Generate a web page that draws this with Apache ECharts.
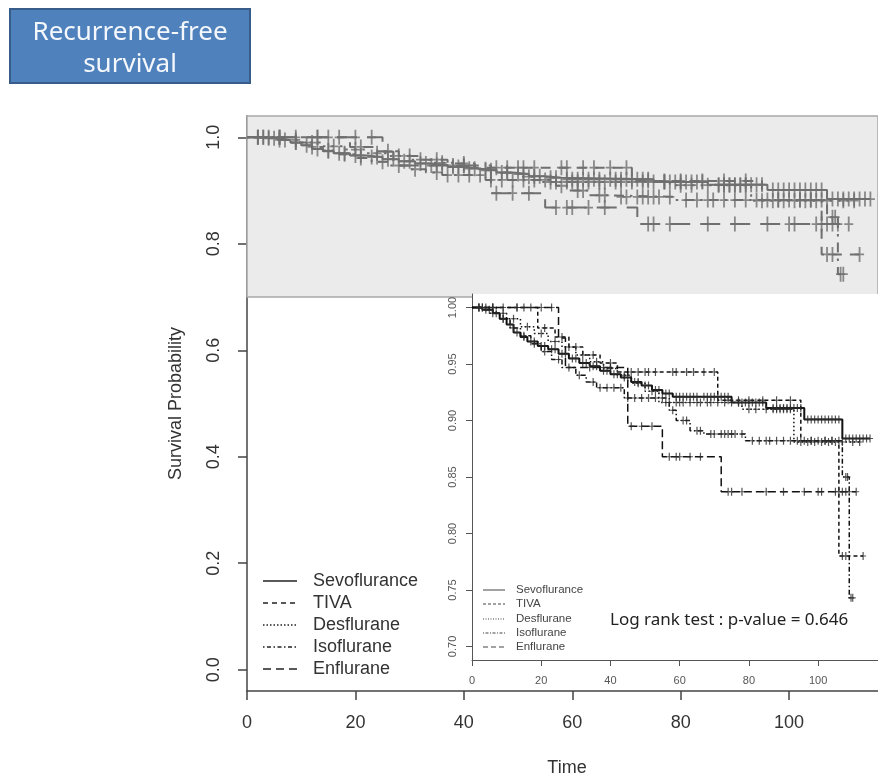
<!DOCTYPE html>
<html><head><meta charset="utf-8">
<script src="https://cdn.jsdelivr.net/npm/echarts@6/dist/echarts.min.js"></script>
<style>html,body{margin:0;padding:0;background:#fff}#c{width:878px;height:777px}</style>
</head><body><div id="c"></div>
<script>
// ---------------- DATA ----------------
const groups = ['Sevoflurance', 'TIVA', 'Desflurane', 'Isoflurane', 'Enflurane'];

const sevoT = [0, 3, 6, 8, 10, 12, 14, 16, 19, 22, 25, 28, 31, 34, 37, 40, 43, 46, 49, 52, 55, 58, 75, 85, 96, 107];
const sevoS = [1.0, 0.998, 0.995, 0.99, 0.985, 0.978, 0.974, 0.970, 0.966, 0.963, 0.959, 0.955, 0.951, 0.948, 0.944, 0.941, 0.938, 0.934, 0.931, 0.927, 0.924, 0.921, 0.916, 0.911, 0.901, 0.884];
const sevoCens = [2, 4, 5, 7, 9, 11, 13, 15, 17, 18, 20, 21, 23, 24, 26, 27, 29, 30, 32, 33, 35, 36, 38, 39, 41, 42, 44, 45, 47, 48, 50, 51, 53, 54, 56, 57, 59, 60, 61, 62, 63, 64, 65, 67, 68, 69, 70, 71, 72, 73, 74, 77, 78, 79, 80, 81, 82, 83, 84, 87, 88, 89, 90, 91, 92, 93, 94, 95, 97, 98, 99, 100, 101, 102, 103, 104, 105, 106, 108, 109, 110, 111, 112, 113, 114, 115];

const tivaT = [0, 19, 24, 28, 32, 37, 42, 71, 95, 106];
const tivaS = [1.0, 0.982, 0.974, 0.965, 0.958, 0.951, 0.943, 0.918, 0.882, 0.78];
const tivaCens = [3, 6, 9, 13, 15, 17, 21, 26, 30, 35, 40, 46, 48, 50, 51, 53, 58, 59, 62, 64, 67, 70, 74, 77, 80, 84, 88, 92, 98, 102, 104, 107, 108, 113];

const desT = [0, 7, 10, 14, 18, 22, 26, 30, 34, 38, 42, 46, 50, 54, 78, 93];
const desS = [1.0, 0.995, 0.99, 0.983, 0.977, 0.97, 0.965, 0.958, 0.952, 0.946, 0.94, 0.933, 0.926, 0.916, 0.91, 0.881];
const desCens = [2, 4, 6, 9, 12, 16, 20, 24, 28, 32, 36, 40, 44, 48, 52, 56, 57, 59, 60, 61, 63, 65, 66, 68, 69, 71, 73, 75, 77, 80, 82, 85, 87, 88, 89, 90, 91, 92, 95, 97, 99, 101, 103, 105, 107, 110, 112];

const isoT = [0, 5, 8, 11, 14, 17, 20, 23, 26, 30, 33, 36, 44, 57, 59, 63, 67, 79, 107, 109];
const isoS = [1.0, 0.995, 0.99, 0.982, 0.975, 0.968, 0.961, 0.954, 0.947, 0.94, 0.934, 0.929, 0.92, 0.909, 0.90, 0.891, 0.888, 0.882, 0.85, 0.743];
const isoCens = [2, 3, 6, 9, 12, 15, 18, 21, 25, 28, 31, 35, 37, 39, 41, 43, 45, 47, 49, 51, 53, 55, 58, 61, 62, 65, 66, 69, 70, 72, 73, 74, 75, 76, 78, 81, 83, 85, 86, 88, 90, 92, 94, 96, 98, 100, 102, 104, 106, 108, 108.5, 109.5, 110];

const enfT = [0, 25, 27, 45, 55, 72];
const enfS = [1.0, 0.973, 0.947, 0.895, 0.868, 0.837];
const enfCens = [6, 13, 20, 23, 34, 38, 40, 46, 49, 52, 57, 59, 60, 63, 66, 74, 75, 78, 85, 90, 96, 100, 101, 105, 106, 107, 108, 109, 111];

const xTicks = [0, 20, 40, 60, 80, 100];
const mainYTicks = [0, 0.2, 0.4, 0.6, 0.8, 1.0];
const insetYTicks = [0.70, 0.75, 0.80, 0.85, 0.90, 0.95, 1.00];
const pValueText = 'Log rank test : p-value = 0.646';

// ---------------- BUILD ----------------
const curves = [
  { T: sevoT, S: sevoS, C: sevoCens },
  { T: tivaT, S: tivaS, C: tivaCens },
  { T: desT, S: desS, C: desCens },
  { T: isoT, S: isoS, C: isoCens },
  { T: enfT, S: enfS, C: enfCens }
];
function survAt(T, S, t) { let s = S[0]; for (let i = 0; i < T.length; i++) if (T[i] <= t) s = S[i]; return s; }
function lineData(c) {
  const d = c.T.map((t, i) => [t, c.S[i]]);
  const lastC = Math.max(...c.C);
  if (lastC > c.T[c.T.length - 1]) d.push([lastC, c.S[c.S.length - 1]]);
  return d;
}
function censData(c) { return c.C.map(t => [t, survAt(c.T, c.S, t)]); }

const mainDash = ['solid', [10, 8], [2.5, 6], [2.5, 6, 10, 6], [20, 10]];
const insetDash = ['solid', [4, 3], [1.5, 2.5], [1.5, 2.5, 5, 2.5], [8, 4]];
const legDash = [null, [5, 4], [1.5, 2], [1.5, 2.5, 4, 2.5], [8, 5]];
const legDashS = [null, [3, 2], [1, 1.5], [1, 1.5, 3, 1.5], [5, 3]];
const plusMain = 'path://M-0.2,-1 L0.2,-1 L0.2,-0.12 L1,-0.12 L1,0.12 L0.2,0.12 L0.2,1 L-0.2,1 L-0.2,0.12 L-1,0.12 L-1,-0.12 L-0.2,-0.12 Z';
const plusInset = 'path://M-0.2,-1 L0.2,-1 L0.2,-0.13 L1,-0.13 L1,0.13 L0.2,0.13 L0.2,1 L-0.2,1 L-0.2,0.13 L-1,0.13 L-1,-0.13 L-0.2,-0.13 Z';

const mainGray = '#6f6f6f';
const series = [];
curves.forEach((c, i) => {
  series.push({
    type: 'line', xAxisIndex: 0, yAxisIndex: 0, step: 'end', data: lineData(c), symbol: 'none',
    lineStyle: { color: mainGray, width: 2, type: mainDash[i] }, z: 3, silent: true,
    markArea: i === 0 ? { silent: true, itemStyle: { color: '#ebebeb', borderColor: '#a8a8a8', borderWidth: 1.5 },
      data: [[{ coord: [0, 0.7] }, { coord: [116.4, 1.04] }]] } : undefined
  });
  series.push({
    type: 'scatter', xAxisIndex: 0, yAxisIndex: 0, data: censData(c), symbol: plusMain, symbolSize: [9, 15],
    itemStyle: { color: mainGray }, z: 4, silent: true
  });
  series.push({
    type: 'line', xAxisIndex: 1, yAxisIndex: 1, step: 'end', data: lineData(c), symbol: 'none',
    lineStyle: { color: '#111', width: i === 0 ? 2 : 1.5, type: insetDash[i] }, z: 6, silent: true
  });
  series.push({
    type: 'scatter', xAxisIndex: 1, yAxisIndex: 1, data: censData(c), symbol: plusInset, symbolSize: [6, 8],
    itemStyle: { color: '#2a2a2a' }, z: 7, silent: true
  });
});

const txt = '#333';
const graphic = [
  { type: 'rect', shape: { x: 10, y: 9, width: 240, height: 74 }, style: { fill: '#4f81bd', stroke: '#385d8a', lineWidth: 2 }, z: 10 },
  { type: 'text', x: 130, y: 33, style: { text: 'Recurrence-free', fill: '#f4f7fb', font: '26px "Noto Sans"', textAlign: 'center', textVerticalAlign: 'middle' }, z: 11 },
  { type: 'text', x: 130, y: 65, style: { text: 'survival', fill: '#f4f7fb', font: '26px "Noto Sans"', textAlign: 'center', textVerticalAlign: 'middle' }, z: 11 },
  { type: 'text', x: 567, y: 768, style: { text: 'Time', fill: txt, font: '18px "Liberation Sans"', textAlign: 'center', textVerticalAlign: 'middle' }, z: 10 },
  { type: 'text', x: 610, y: 620, style: { text: pValueText, fill: '#222', font: '17px "Noto Sans"', textAlign: 'left', textVerticalAlign: 'middle' }, z: 10 }
];
const legY = [581, 603, 625, 647, 669];
const legYs = [590, 604, 619, 633, 647];
groups.forEach((g, i) => {
  graphic.push({ type: 'line', shape: { x1: 263, y1: legY[i], x2: 297, y2: legY[i] }, style: { stroke: '#222', lineWidth: 1.5, lineDash: legDash[i] }, z: 10 });
  graphic.push({ type: 'text', x: 313, y: legY[i], style: { text: g, fill: txt, font: '18px "Liberation Sans"', textAlign: 'left', textVerticalAlign: 'middle' }, z: 10 });
  graphic.push({ type: 'line', shape: { x1: 483, y1: legYs[i], x2: 505, y2: legYs[i] }, style: { stroke: '#444', lineWidth: 1, lineDash: legDashS[i] }, z: 10 });
  graphic.push({ type: 'text', x: 516, y: legYs[i], style: { text: g, fill: '#444', font: '11.5px "Liberation Sans"', textAlign: 'left', textVerticalAlign: 'middle' }, z: 10 });
});

const axLine = { show: true, onZero: false, lineStyle: { color: '#444', width: 1.5 } };
const option = {
  animation: false,
  backgroundColor: '#fff',
  grid: [
    { left: 247, top: 116, width: 631, height: 575, containLabel: false },
    { left: 472, top: 294, width: 406, height: 366, containLabel: false, show: true, backgroundColor: '#fff', borderWidth: 0, z: 5 }
  ],
  xAxis: [
    { gridIndex: 0, type: 'value', min: 0, max: 116.4, interval: 20, splitLine: { show: false },
      axisLine: axLine, axisTick: { show: true, length: 9, lineStyle: { color: '#444', width: 1.5 }, customValues: xTicks },
      axisLabel: { color: txt, fontSize: 18, fontFamily: 'Liberation Sans', margin: 23, customValues: xTicks } },
    { gridIndex: 1, type: 'value', min: 0, max: 117.3, interval: 20, splitLine: { show: false }, z: 6,
      axisLine: { show: true, onZero: false, lineStyle: { color: '#555', width: 1 } }, axisTick: { show: true, length: 6, lineStyle: { color: '#555' }, customValues: xTicks },
      axisLabel: { color: '#555', fontSize: 11, fontFamily: 'Liberation Sans', margin: 15, customValues: xTicks } }
  ],
  yAxis: [
    { gridIndex: 0, type: 'value', min: -0.04, max: 1.04, splitLine: { show: false },
      name: 'Survival Probability', nameLocation: 'middle', nameGap: 62,
      nameTextStyle: { color: txt, fontSize: 18, fontFamily: 'Liberation Sans' },
      axisLine: axLine, axisTick: { show: true, length: 9, lineStyle: { color: '#444', width: 1.5 }, customValues: mainYTicks },
      axisLabel: { color: txt, fontSize: 18, fontFamily: 'Liberation Sans', rotate: 90, margin: 24, customValues: mainYTicks, formatter: v => v.toFixed(1) } },
    { gridIndex: 1, type: 'value', min: 0.688, max: 1.012, splitLine: { show: false }, z: 6,
      axisLine: { show: true, onZero: false, lineStyle: { color: '#555', width: 1 } }, axisTick: { show: true, length: 6, lineStyle: { color: '#555' }, customValues: insetYTicks },
      axisLabel: { color: '#555', fontSize: 11, fontFamily: 'Liberation Sans', rotate: 90, margin: 14, customValues: insetYTicks, formatter: v => v.toFixed(2) } }
  ],
  graphic: graphic,
  series: series
};
const chart = echarts.init(document.getElementById('c'), null, { renderer: 'canvas' });
chart.setOption(option);
</script></body></html>
